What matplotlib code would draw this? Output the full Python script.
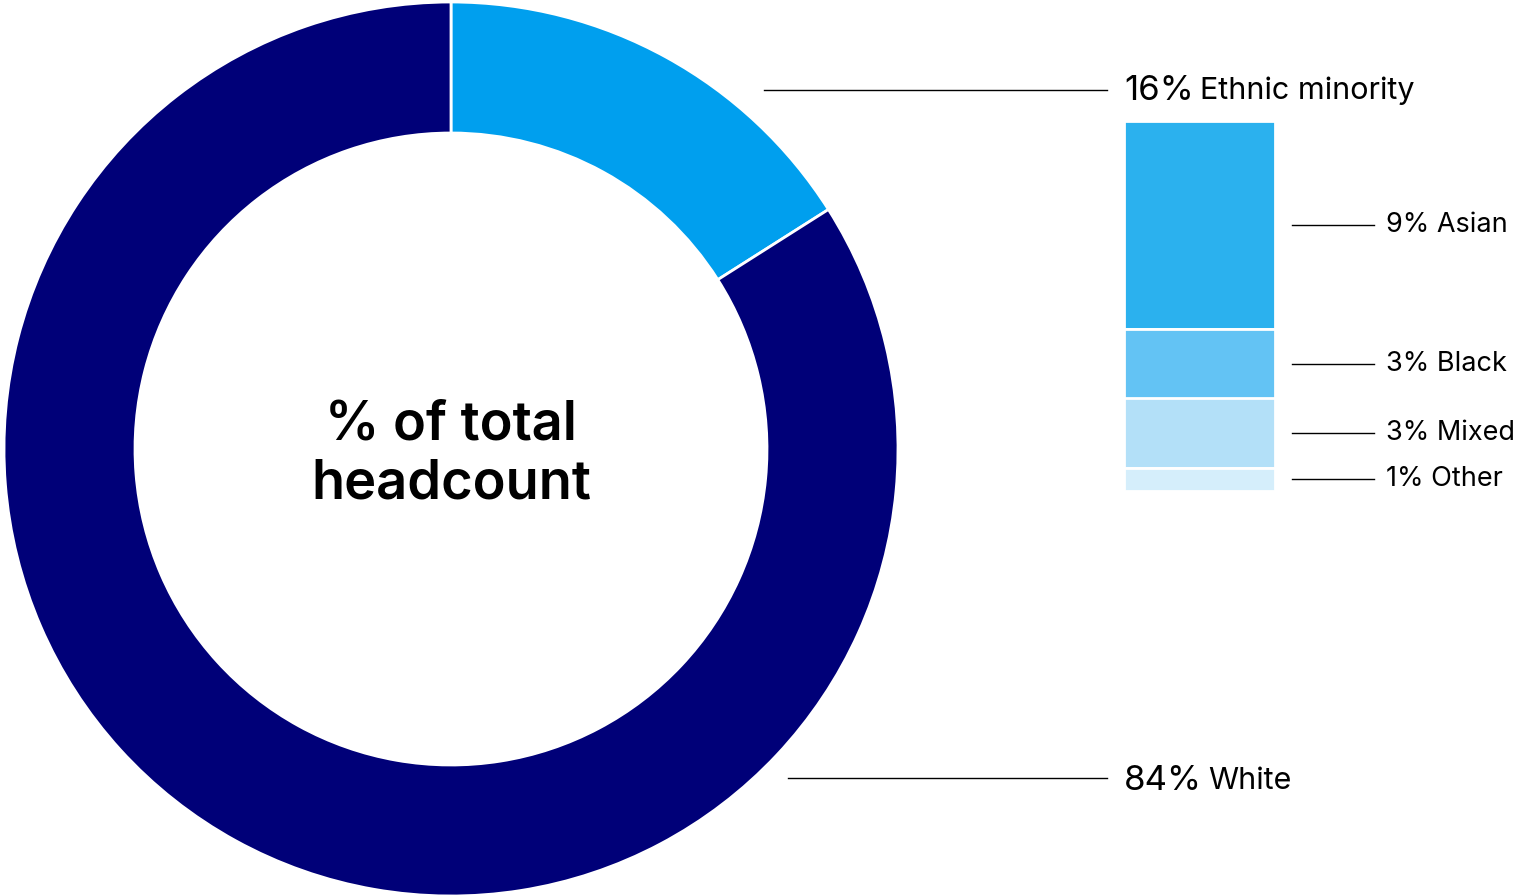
import matplotlib
matplotlib.use("Agg")
import matplotlib.pyplot as plt
from matplotlib.transforms import blended_transform_factory

# Headcount split (% of total)
main_labels = ["Ethnic minority", "White"]
main_values = [16, 84]
main_colors = ["#009FEE", "#000078"]

# Breakdown of the ethnic minority share
sub_labels = ["Asian", "Black", "Mixed", "Other"]
sub_values = [9, 3, 3, 1]
sub_colors = ["#2BB1EE", "#63C3F4", "#B3E0F8", "#D5EEFB"]

center_text = "% of total\nheadcount"

W, H = 1517, 896
FONT = "Inter"
plt.rcParams["font.family"] = [FONT, "DejaVu Sans"]

fig = plt.figure(figsize=(W / 100, H / 100), dpi=100)
ax = fig.add_axes([0, 0, 1, 1])


def py(y):
    """Convert a top-down pixel row to axes y."""
    return H - y


# Donut
cx, cy, r_out, r_in = 451, 449, 447, 316
ax.pie(main_values, colors=main_colors, startangle=90, counterclock=False,
       center=(cx, py(cy)), radius=r_out,
       wedgeprops=dict(width=r_out - r_in, edgecolor="white", linewidth=2))
ax.set_xlim(0, W)
ax.set_ylim(0, H)
ax.set_aspect("equal")
ax.axis("off")

ax.text(cx, py(454), center_text, ha="center", va="center", fontsize=39,
        fontweight="semibold", linespacing=1.2, color="black")

# Leader lines and labels for the two donut segments
label_rows = {"Ethnic minority": (90, 764, 100), "White": (778, 788, 790)}
fig.canvas.draw()
for lab, val in zip(main_labels, main_values):
    yline, x0, ybase = label_rows[lab]
    ax.plot([x0, 1107], [py(yline), py(yline)], color="black", lw=1)
    t = ax.text(1124, py(ybase), f"{val}%", ha="left", va="baseline",
                fontsize=25, color="black")
    bb = t.get_window_extent(renderer=fig.canvas.get_renderer())
    ax.text(bb.x1 + 6, py(ybase - 1), lab, ha="left", va="baseline",
            fontsize=22, color="black")

# Stacked breakdown bar
bx0, bx1, by0, by1 = 1124, 1275, 121, 491
ax2 = fig.add_axes([bx0 / W, (H - by1) / H, (bx1 - bx0) / W, (by1 - by0) / H])
total = sum(sub_values)
bottoms = [sum(sub_values[:i]) for i in range(len(sub_values))]
ax2.bar([0] * len(sub_values), sub_values, bottom=bottoms, width=1,
        align="edge", color=sub_colors, edgecolor="white", linewidth=2)
ax2.set_xlim(0, 1)
ax2.set_ylim(total, 0)
ax2.axis("off")

tr = blended_transform_factory(ax2.transAxes, ax2.transData)
bw = bx1 - bx0
for lab, val, b in zip(sub_labels, sub_values, bottoms):
    yc = b + val / 2
    ax2.plot([(1292 - bx0) / bw, (1374 - bx0) / bw], [yc, yc], color="black",
             lw=1, transform=tr, clip_on=False)
    ax2.text((1386 - bx0) / bw, yc, f"{val}% {lab}", ha="left", va="center",
             fontsize=19.5, color="black", transform=tr, clip_on=False)

fig.savefig("out.png", dpi=100, facecolor="white")
